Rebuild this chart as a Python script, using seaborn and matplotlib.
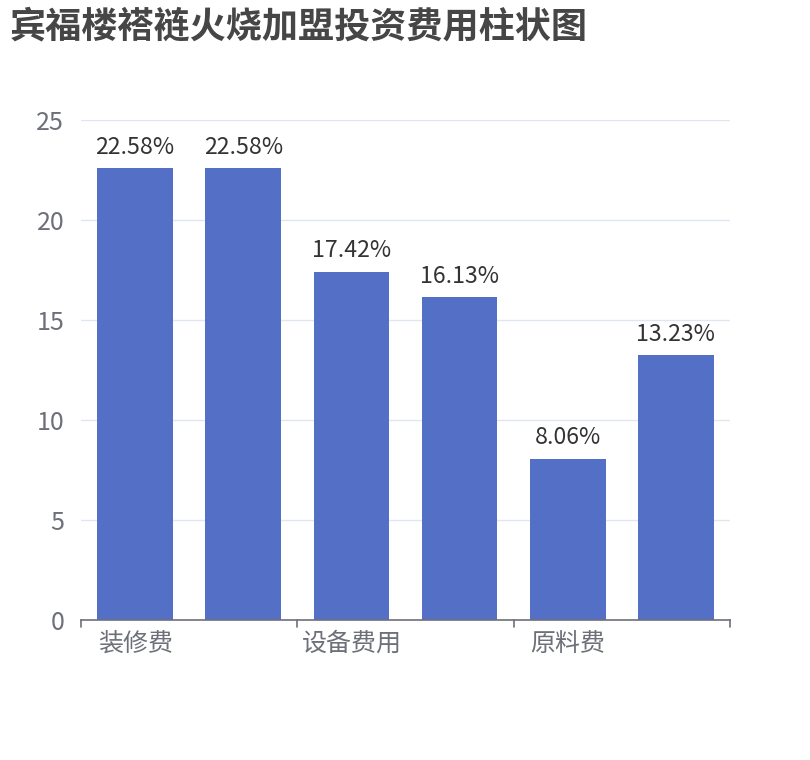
import matplotlib
matplotlib.use("Agg")
import matplotlib.pyplot as plt
import seaborn as sns
import pandas as pd

categories = ["装修费", "加盟费", "设备费用", "房租押金", "原料费", "其他费用"]
values = [22.58, 22.58, 17.42, 16.13, 8.06, 13.23]
shown_labels = ["装修费", "", "设备费用", "", "原料费", ""]
title = "宾福楼褡裢火烧加盟投资费用柱状图"
yticks = [0, 5, 10, 15, 20, 25]

sns.set_theme(style="white")
plt.rcParams['font.family'] = ['Noto Sans CJK SC', 'DejaVu Sans']

df = pd.DataFrame({"cat": categories, "val": values})

fig = plt.figure(figsize=(8.1, 7.6), dpi=100)
ax = fig.add_axes([81/810, 1 - 620/760, (730-81)/810, 500/760])

sns.barplot(data=df, x="cat", y="val", color="#5470c6", width=0.7, ax=ax,
            saturation=1, edgecolor="none")

ax.set_ylim(0, 25)
ax.set_xlim(-0.5, len(categories) - 0.5)
ax.set_yticks(yticks)
ax.set_yticklabels([str(t) for t in yticks], fontsize=18, color="#6E7079")
ax.yaxis.grid(True, color="#E0E6F1", linewidth=1)
ax.set_axisbelow(True)
ax.tick_params(axis="y", length=0, pad=12)

ax.set_xticks(range(len(categories)))
ax.set_xticklabels(shown_labels, fontsize=18, color="#6E7079")
ax.tick_params(axis="x", length=0, pad=8)
for b in [-0.5, 1.5, 3.5, 5.5]:
    ax.plot([b, b], [0, -0.35], color="#6E7079", lw=1.2, clip_on=False,
            transform=ax.transData)

for s in ["top", "right", "left"]:
    ax.spines[s].set_visible(False)
ax.spines["bottom"].set_color("#6E7079")
ax.spines["bottom"].set_linewidth(1.2)
ax.set_xlabel("")
ax.set_ylabel("")

for i, v in enumerate(values):
    ax.annotate(f"{v:.2f}%", (i, v), xytext=(0, 7), textcoords="offset points",
                ha="center", va="bottom", fontsize=16.7, color="#333333")

fig.text(10/810, 1 - 27/760, title, fontsize=26, fontweight="bold",
         color="#464646", ha="left", va="center")

fig.savefig("out.png", dpi=100)
